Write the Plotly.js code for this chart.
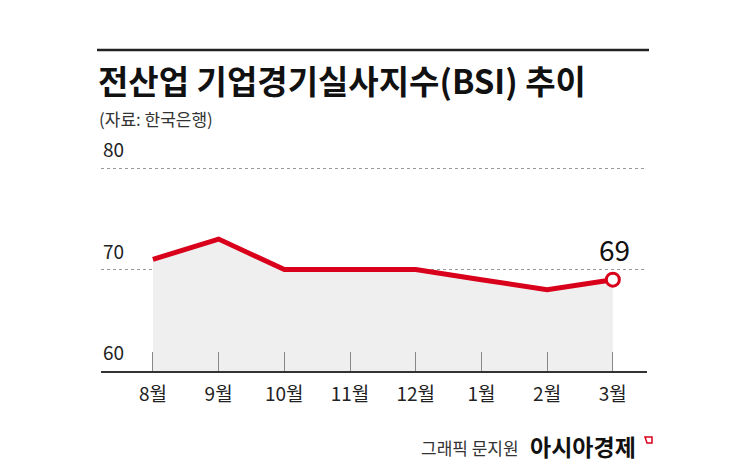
<!DOCTYPE html>
<html>
<head>
<meta charset="utf-8">
<script src="https://cdn.plot.ly/plotly-3.0.1.min.js"></script>
<style>
html,body{margin:0;padding:0;background:#fff;}
#chart{width:745px;height:466px;}
</style>
</head>
<body>
<div id="chart"></div>
<script>
const months = ["8월","9월","10월","11월","12월","1월","2월","3월"];
const bsi = [71, 73, 70, 70, 70, 69, 68, 69];
const yTicks = [60, 70, 80];
const lastLabel = "69";

const FONT = "'Noto Sans CJK KR', 'Noto Sans', sans-serif";
const RED = "#d9001b";

// pixel geometry helpers (plot area)
const W = 745, H = 466;
const ML = 101, MR = 98, MT = 166, MB = 95;
const PH = H - MT - MB;
const PW = W - ML - MR;
const px2paperY = py => (H - MB - py) / PH;   // page pixel y -> paper y
const px2paperX = px => (px - ML) / PW;

const fillTrace = {
  x: months, y: bsi, type: "scatter", mode: "none",
  fill: "tozeroy", fillcolor: "#efefef", hoverinfo: "skip", showlegend: false
};
const lineTrace = {
  x: months, y: bsi, type: "scatter", mode: "lines",
  line: {color: RED, width: 5}, showlegend: false, hoverinfo: "skip"
};
const markerTrace = {
  x: [months[months.length-1]], y: [bsi[bsi.length-1]], type: "scatter", mode: "markers",
  marker: {size: 13, color: "#ffffff", line: {color: RED, width: 3}},
  showlegend: false, hoverinfo: "skip"
};

const annotations = yTicks.map(v => ({
  xref: "paper", yref: "y", x: 0, y: v, xanchor: "left", yanchor: "bottom",
  text: String(v), showarrow: false, yshift: 4, xshift: 0,
  font: {family: FONT, size: 19, color: "#222"}
}));
annotations.push({
  xref: "x", yref: "y", x: months[months.length-1], y: bsi[bsi.length-1],
  text: lastLabel, showarrow: false, yanchor: "bottom", yshift: 9, xshift: 2,
  font: {family: FONT, size: 28, color: "#111"}
});
annotations.push({
  xref: "paper", yref: "paper", x: px2paperX(96), y: px2paperY(80), xanchor: "left", yanchor: "middle",
  text: "<b>전산업 기업경기실사지수(BSI) 추이</b>", showarrow: false,
  font: {family: FONT, size: 33, color: "#111"}
});
annotations.push({
  xref: "paper", yref: "paper", x: px2paperX(97), y: px2paperY(118), xanchor: "left", yanchor: "middle",
  text: "(자료: 한국은행)", showarrow: false,
  font: {family: FONT, size: 17, color: "#333"}
});
annotations.push({
  xref: "paper", yref: "paper", x: px2paperX(521), y: px2paperY(447), xanchor: "right", yanchor: "middle",
  text: "그래픽 문지원", showarrow: false,
  font: {family: FONT, size: 17, color: "#333"}
});
annotations.push({
  xref: "paper", yref: "paper", x: px2paperX(528), y: px2paperY(446), xanchor: "left", yanchor: "middle",
  text: "<b>아시아경제</b>", showarrow: false,
  font: {family: FONT, size: 23, color: "#111"}
});

const layout = {
  width: W, height: H,
  margin: {l: ML, r: MR, t: MT, b: MB},
  paper_bgcolor: "#fff", plot_bgcolor: "#fff",
  showlegend: false,
  xaxis: {
    type: "category", range: [-0.79, 7.52],
    showline: true, linecolor: "#333", linewidth: 2,
    ticks: "inside", ticklen: 19, tickcolor: "#888", tickwidth: 1,
    showgrid: false, zeroline: false,
    tickfont: {family: FONT, size: 19, color: "#222"},
    ticklabelstandoff: 5, fixedrange: true
  },
  yaxis: {
    range: [60, 80.2], showticklabels: false, ticks: "",
    tickvals: [70, 80], showgrid: true, gridcolor: "#999", griddash: "dot", gridwidth: 1,
    zeroline: false, showline: false, fixedrange: true
  },
  annotations: annotations,
  shapes: [
    {type: "line", xref: "paper", yref: "paper",
     x0: px2paperX(97), x1: px2paperX(649), y0: px2paperY(50), y1: px2paperY(50),
     line: {color: "#222", width: 2.5}},
    {type: "path", xref: "paper", yref: "paper",
     path: "M " + px2paperX(645) + "," + px2paperY(437) + " L " + px2paperX(652) + "," + px2paperY(437) +
           " L " + px2paperX(652) + "," + px2paperY(443) + " L " + px2paperX(647) + "," + px2paperY(443) + " Z",
     line: {color: RED, width: 1.5}, fillcolor: "rgba(0,0,0,0)"}
  ]
};

Plotly.newPlot("chart", [fillTrace, lineTrace, markerTrace], layout, {staticPlot: true});
</script>
</body>
</html>
